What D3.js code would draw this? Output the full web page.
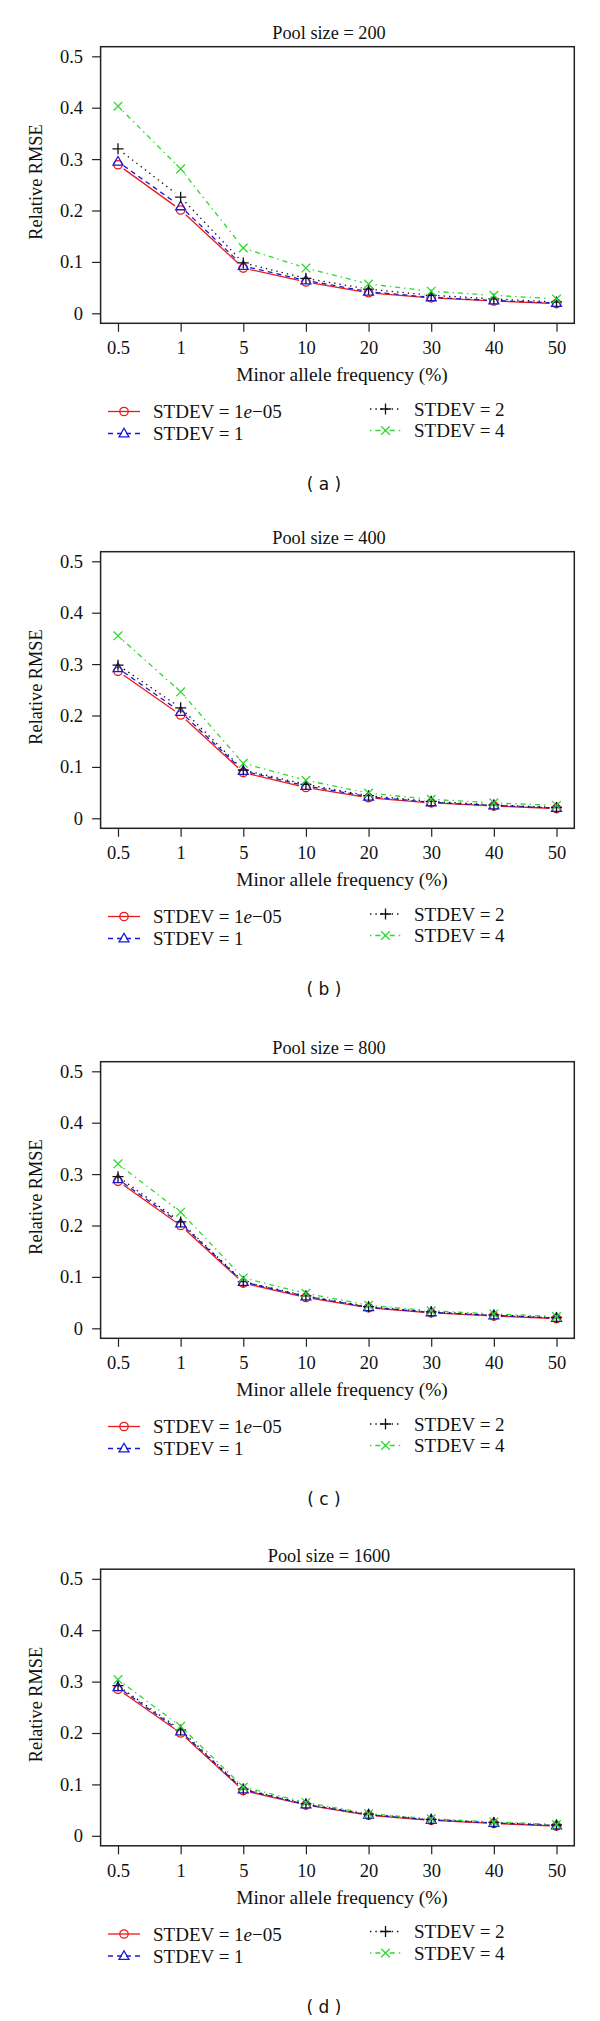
<!DOCTYPE html>
<html><head><meta charset="utf-8">
<script src="https://cdn.jsdelivr.net/npm/d3@7"></script>
<style>body{margin:0;background:#fff}</style>
</head><body>
<svg id="c" width="600" height="2021" xmlns="http://www.w3.org/2000/svg"></svg>
<script>
// ---------- data ----------
const categories = ["0.5", "1", "5", "10", "20", "30", "40", "50"];
const yTicks = [0, 0.1, 0.2, 0.3, 0.4, 0.5];
const panelTitles = ["Pool size = 200", "Pool size = 400", "Pool size = 800", "Pool size = 1600"];
const panelLetters = ["a", "b", "c", "d"];
const seriesNames = ["STDEV = 1e\u221205", "STDEV = 1", "STDEV = 2", "STDEV = 4"];

const pool200_sd1e05 = [0.289, 0.201, 0.088, 0.061, 0.040, 0.030, 0.024, 0.019];
const pool200_sd1    = [0.295, 0.208, 0.092, 0.064, 0.042, 0.031, 0.025, 0.020];
const pool200_sd2    = [0.320, 0.226, 0.098, 0.068, 0.047, 0.035, 0.028, 0.022];
const pool200_sd4    = [0.403, 0.281, 0.127, 0.088, 0.057, 0.043, 0.035, 0.028];

const pool400_sd1e05 = [0.286, 0.201, 0.089, 0.060, 0.040, 0.030, 0.024, 0.019];
const pool400_sd1    = [0.292, 0.207, 0.092, 0.063, 0.042, 0.031, 0.025, 0.020];
const pool400_sd2    = [0.298, 0.215, 0.094, 0.066, 0.044, 0.033, 0.026, 0.021];
const pool400_sd4    = [0.355, 0.246, 0.107, 0.074, 0.049, 0.037, 0.030, 0.025];

const pool800_sd1e05 = [0.286, 0.200, 0.088, 0.060, 0.040, 0.030, 0.024, 0.019];
const pool800_sd1    = [0.290, 0.204, 0.090, 0.062, 0.041, 0.031, 0.025, 0.020];
const pool800_sd2    = [0.295, 0.207, 0.091, 0.063, 0.042, 0.032, 0.026, 0.021];
const pool800_sd4    = [0.320, 0.226, 0.098, 0.068, 0.045, 0.034, 0.028, 0.023];

const pool1600_sd1e05 = [0.285, 0.200, 0.088, 0.060, 0.040, 0.030, 0.024, 0.019];
const pool1600_sd1    = [0.289, 0.203, 0.090, 0.061, 0.041, 0.031, 0.025, 0.020];
const pool1600_sd2    = [0.292, 0.206, 0.091, 0.062, 0.042, 0.032, 0.026, 0.021];
const pool1600_sd4    = [0.304, 0.213, 0.095, 0.065, 0.043, 0.033, 0.027, 0.022];

const panelData = [
  [pool200_sd1e05, pool200_sd1, pool200_sd2, pool200_sd4],
  [pool400_sd1e05, pool400_sd1, pool400_sd2, pool400_sd4],
  [pool800_sd1e05, pool800_sd1, pool800_sd2, pool800_sd4],
  [pool1600_sd1e05, pool1600_sd1, pool1600_sd2, pool1600_sd4]
];

// ---------- styles ----------
const colors = ["#ee1a1a", "#1a1ad6", "#111111", "#2ed82e"];
const dashes = [null, "5,4", "1.4,4", "1.4,4,5,4"];
const markers = ["circle", "triangle", "plus", "cross"];
const serif = "'Liberation Serif','Times New Roman',serif";
const panelOffsets = [0, 505, 1015, 1522.5];

const svg = d3.select("#c");
svg.append("rect").attr("width", 600).attr("height", 2021).attr("fill", "#fff");

const box = {l: 100.6, r: 574.3, t: 46.7, b: 323.3};
const x = d3.scalePoint().domain(categories).range([118, 556.5]);
const y = d3.scaleLinear().domain([0, 0.5]).range([313.3, 56.3]);

function drawMarker(g, type, cx, cy, color) {
  const sw = 1.3;
  if (type === "circle") {
    g.append("circle").attr("cx", cx).attr("cy", cy).attr("r", 4.2)
      .attr("fill", "none").attr("stroke", color).attr("stroke-width", sw);
  } else if (type === "triangle") {
    const s = 5.2;
    g.append("path").attr("d", `M${cx},${cy - s}L${cx + s * 0.95},${cy + s * 0.65}L${cx - s * 0.95},${cy + s * 0.65}Z`)
      .attr("fill", "none").attr("stroke", color).attr("stroke-width", sw);
  } else if (type === "plus") {
    const s = 5.5;
    g.append("path").attr("d", `M${cx - s},${cy}H${cx + s}M${cx},${cy - s}V${cy + s}`)
      .attr("fill", "none").attr("stroke", color).attr("stroke-width", sw);
  } else {
    const s = 4.3;
    g.append("path").attr("d", `M${cx - s},${cy - s}L${cx + s},${cy + s}M${cx - s},${cy + s}L${cx + s},${cy - s}`)
      .attr("fill", "none").attr("stroke", color).attr("stroke-width", sw);
  }
}

panelData.forEach((series, p) => {
  const g = svg.append("g").attr("transform", `translate(0,${panelOffsets[p]})`);

  // title
  g.append("text").attr("x", 329).attr("y", 39).attr("text-anchor", "middle")
    .attr("font-family", serif).attr("font-size", 18.3).attr("fill", "#111")
    .text(panelTitles[p]);

  // axes
  const ya = g.append("g").attr("transform", `translate(${box.l},0)`)
    .call(d3.axisLeft(y).tickValues(yTicks).tickSize(8.5).tickSizeOuter(0).tickPadding(9)
      .tickFormat(d => d === 0 ? "0" : d3.format(".1f")(d)));
  ya.select(".domain").remove();
  const xa = g.append("g").attr("transform", `translate(0,${box.b})`)
    .call(d3.axisBottom(x).tickSize(8.5).tickSizeOuter(0).tickPadding(9.4));
  xa.select(".domain").remove();
  [ya, xa].forEach(a => {
    a.attr("font-family", serif).attr("font-size", 18.5);
    a.selectAll("line").attr("stroke", "#222").attr("stroke-width", 1.2);
    a.selectAll("text").attr("fill", "#111");
  });

  // box
  g.append("rect").attr("x", box.l).attr("y", box.t)
    .attr("width", box.r - box.l).attr("height", box.b - box.t)
    .attr("fill", "none").attr("stroke", "#222").attr("stroke-width", 1.5);

  // axis labels
  g.append("text").attr("x", 342).attr("y", 381).attr("text-anchor", "middle")
    .attr("font-family", serif).attr("font-size", 19.4).attr("fill", "#111")
    .text("Minor allele frequency (%)");
  g.append("text").attr("transform", "translate(42,182) rotate(-90)").attr("text-anchor", "middle")
    .attr("font-family", serif).attr("font-size", 18.3).attr("fill", "#111")
    .text("Relative RMSE");

  // series (type = "b": segments with gaps around points)
  const gap = 7;
  series.forEach((vals, s) => {
    const sg = g.append("g");
    const pts = vals.map((v, i) => [x(categories[i]), y(v)]);
    for (let i = 0; i < pts.length - 1; i++) {
      const [x0, y0] = pts[i], [x1, y1] = pts[i + 1];
      const dx = x1 - x0, dy = y1 - y0, len = Math.hypot(dx, dy);
      if (len <= 2 * gap) continue;
      const ux = dx / len, uy = dy / len;
      const ln = sg.append("line")
        .attr("x1", x0 + ux * gap).attr("y1", y0 + uy * gap)
        .attr("x2", x1 - ux * gap).attr("y2", y1 - uy * gap)
        .attr("stroke", colors[s]).attr("stroke-width", 1.3);
      if (dashes[s]) ln.attr("stroke-dasharray", dashes[s]);
    }
    pts.forEach(([px, py]) => drawMarker(sg, markers[s], px, py, colors[s]));
  });

  // legend
  const legendPos = [
    {lx: 108, mx: 124, tx: 153, cy: 411.5},
    {lx: 108, mx: 124, tx: 153, cy: 433.5},
    {lx: 370, mx: 385.5, tx: 414, cy: 409},
    {lx: 370, mx: 385.5, tx: 414, cy: 430.5}
  ];
  seriesNames.forEach((name, s) => {
    const L = legendPos[s];
    const lg = g.append("g");
    const ln = lg.append("line").attr("x1", L.lx).attr("x2", L.lx + 32)
      .attr("y1", L.cy).attr("y2", L.cy).attr("stroke", colors[s]).attr("stroke-width", 1.3);
    if (dashes[s]) ln.attr("stroke-dasharray", dashes[s]);
    drawMarker(lg, markers[s], L.mx, L.cy, colors[s]);
    const t = lg.append("text").attr("x", L.tx).attr("y", L.cy + 6.5)
      .attr("font-family", serif).attr("font-size", 19).attr("fill", "#111");
    if (name.indexOf("1e") >= 0) {
      t.append("tspan").text("STDEV = 1");
      t.append("tspan").attr("font-style", "italic").text("e");
      t.append("tspan").text("\u221205");
    } else {
      t.text(name);
    }
  });

  // panel letter
  g.append("text").attr("x", 324).attr("y", 490).attr("text-anchor", "middle")
    .attr("font-family", "'DejaVu Sans',sans-serif").attr("font-size", 17).attr("fill", "#111")
    .text(`( ${panelLetters[p]} )`);
});
</script>
</body></html>
